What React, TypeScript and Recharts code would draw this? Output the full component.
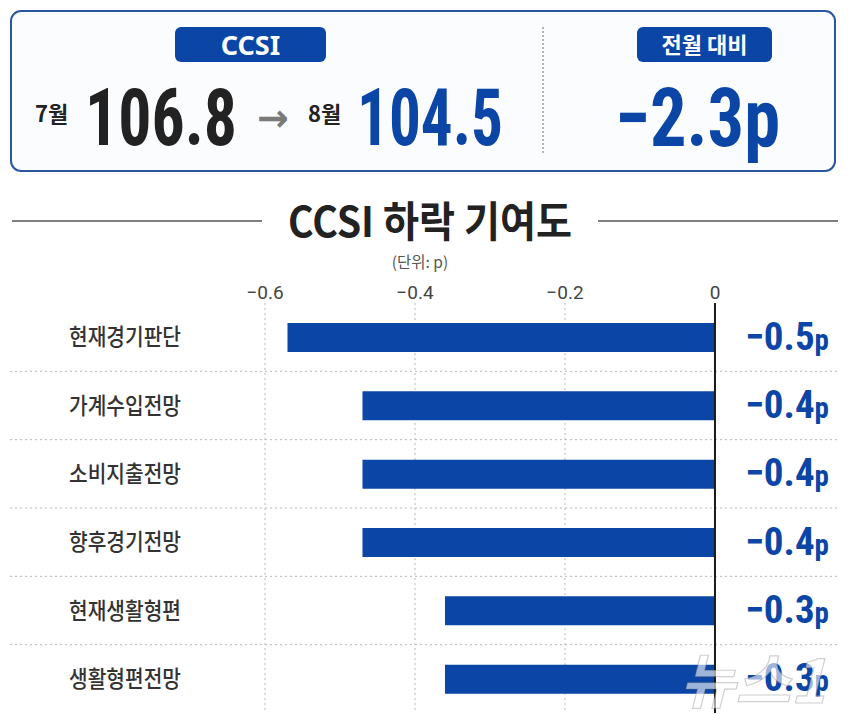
import React from 'react';
import { BarChart, Bar, XAxis, YAxis, CartesianGrid, ReferenceLine, LabelList } from 'recharts';

// ---- data ----
const categories = ['현재경기판단', '가계수입전망', '소비지출전망', '향후경기전망', '현재생활형편', '생활형편전망'];
const contributions = [-0.57, -0.47, -0.47, -0.47, -0.36, -0.36];
const contributionLabels = ['−0.5', '−0.4', '−0.4', '−0.4', '−0.3', '−0.3'];
const xTicks = [-0.6, -0.4, -0.2, 0];
const xDomain = [-0.94, 0.1627];
const headerMonths = ['7월', '8월'];
const headerValues = ['106.8', '104.5'];
const monthOverMonth = '−2.3p';
const unitSuffix = 'p';
const titleText = 'CCSI 하락 기여도';
const unitText = '(단위: p)';
const badgeTexts = ['CCSI', '전월 대비'];

const data = categories.map((name, i) => ({ name, value: contributions[i], label: contributionLabels[i] }));

// ---- styles ----
const BLUE = '#0b46a6';
const DARK = '#222222';
const KR = "'Noto Sans CJK KR', 'Noto Sans', sans-serif";
const NARROW = "'Liberation Sans Narrow', 'Roboto Condensed', 'Roboto', sans-serif";

const CategoryTick = (props: any) => {
  const { x, y, payload } = props;
  return (
    <text x={Number(x) + 115} y={y} dy={8} textAnchor="middle" fill="#333" fontSize={23} fontWeight={500}
      fontFamily={KR} textLength={112} lengthAdjust="spacingAndGlyphs">
      {payload.value}
    </text>
  );
};

const ValueLabel = (props: any) => {
  const { x, y, width, height, value } = props;
  const zeroX = Math.max(Number(x), Number(x) + Number(width));
  const baseY = Number(y) + Number(height) / 2 + 12;
  return (
    <text x={zeroX + 30} y={baseY} fill={BLUE} fontFamily={NARROW} fontWeight={700}>
      <tspan fontSize={39}>{value}</tspan>
      <tspan fontSize={29}>{unitSuffix}</tspan>
    </text>
  );
};

const verticalGen = (p: any) => {
  const xa = p && p.xAxis;
  if (xa && typeof xa.scale === 'function') {
    return xTicks.filter((t) => t !== 0).map((t) => xa.scale(t));
  }
  const off = p.offset;
  return xTicks
    .filter((t) => t !== 0)
    .map((t) => off.left + ((t - xDomain[0]) / (xDomain[1] - xDomain[0])) * off.width);
};

const horizontalGen = (p: any) => {
  const off = p.offset;
  return categories.slice(1).map((_, i) => off.top + ((i + 1) * off.height) / categories.length);
};

export default function App() {
  return (
    <div style={{ position: 'absolute', left: 0, top: 0, width: 860, height: 715, background: '#ffffff', overflow: 'hidden' }}>
      <div style={{ position: 'absolute', left: 0, top: 0 }}>
        <BarChart width={860} height={715} data={data} layout="vertical"
          margin={{ top: 273, right: 23, bottom: 2, left: 10 }} barSize={29}>
          <CartesianGrid stroke="#b8b8b8" strokeDasharray="2 3"
            verticalCoordinatesGenerator={verticalGen}
            horizontalCoordinatesGenerator={horizontalGen} />
          <XAxis type="number" orientation="top" domain={xDomain} ticks={xTicks} height={30}
            axisLine={false} tickLine={false} tickSize={0} tickMargin={4} allowDataOverflow
            tick={{ fill: '#444', fontSize: 19, fontFamily: 'Roboto' }}
            tickFormatter={(v: number) => (v === 0 ? '0' : String(v).replace('-', '−'))} />
          <YAxis type="category" dataKey="name" mirror axisLine={false} tickLine={false}
            tickSize={0} tickMargin={0} tick={<CategoryTick />} />
          <Bar dataKey="value" fill={BLUE} isAnimationActive={false}>
            <LabelList dataKey="label" content={ValueLabel} />
          </Bar>
          <ReferenceLine x={0} stroke="#1a1a1a" strokeWidth={2} />
        </BarChart>
      </div>

      <svg width={860} height={300} style={{ position: 'absolute', left: 0, top: 0 }}>
        <rect x={11} y={11} width={824} height={160} rx={10} fill="#fbfcfe" stroke="#2a55a3" strokeWidth={2} />
        <rect x={175} y={27} width={151} height={35} rx={6} fill={BLUE} />
        <text x={250.5} y={55} textAnchor="middle" fill="#fff" fontSize={27} fontWeight={700} fontFamily="'Noto Sans', sans-serif">{badgeTexts[0]}</text>
        <text x={35} y={122} fill={DARK} fontSize={22} fontWeight={700} fontFamily={KR}>{headerMonths[0]}</text>
        <text x={85} y={145} fill={DARK} fontSize={80} fontWeight={700} fontFamily={NARROW} textLength={152} lengthAdjust="spacingAndGlyphs">{headerValues[0]}</text>
        <text x={257} y={131} fill="#7a7a7a" fontSize={38} fontWeight={700} fontFamily="'DejaVu Sans', sans-serif">→</text>
        <text x={308} y={122} fill={DARK} fontSize={22} fontWeight={700} fontFamily={KR}>{headerMonths[1]}</text>
        <text x={357} y={145} fill={BLUE} fontSize={80} fontWeight={700} fontFamily={NARROW} textLength={146} lengthAdjust="spacingAndGlyphs">{headerValues[1]}</text>
        <line x1={543} y1={27} x2={543} y2={155} stroke="#9a9a9a" strokeWidth={1.5} strokeDasharray="2 2" />
        <rect x={637} y={27} width={135} height={35} rx={6} fill={BLUE} />
        <text x={704.5} y={53} textAnchor="middle" fill="#fff" fontSize={22} fontWeight={700} fontFamily={KR}>{badgeTexts[1]}</text>
        <text x={615} y={146} fill={BLUE} fontSize={82} fontWeight={700} fontFamily={NARROW} textLength={165} lengthAdjust="spacingAndGlyphs">{monthOverMonth}</text>

        <line x1={12} y1={221} x2={262} y2={221} stroke="#555" strokeWidth={1.5} />
        <line x1={598} y1={221} x2={838} y2={221} stroke="#555" strokeWidth={1.5} />
        <text x={430} y={237} textAnchor="middle" fill={DARK} fontSize={42} fontWeight={700} fontFamily={KR} textLength={284} lengthAdjust="spacingAndGlyphs">{titleText}</text>
        <text x={420} y={268} textAnchor="middle" fill="#555" fontSize={15.5} fontFamily={KR}>{unitText}</text>
      </svg>

      <svg width={240} height={110} style={{ position: 'absolute', left: 620, top: 605 }}>
        <text x={60} y={98} fill="rgba(255,255,255,0.6)" stroke="rgba(100,100,100,0.3)" strokeWidth={1.2}
          fontSize={60} fontWeight={700} fontStyle="italic" fontFamily={KR}>뉴스1</text>
      </svg>
    </div>
  );
}
